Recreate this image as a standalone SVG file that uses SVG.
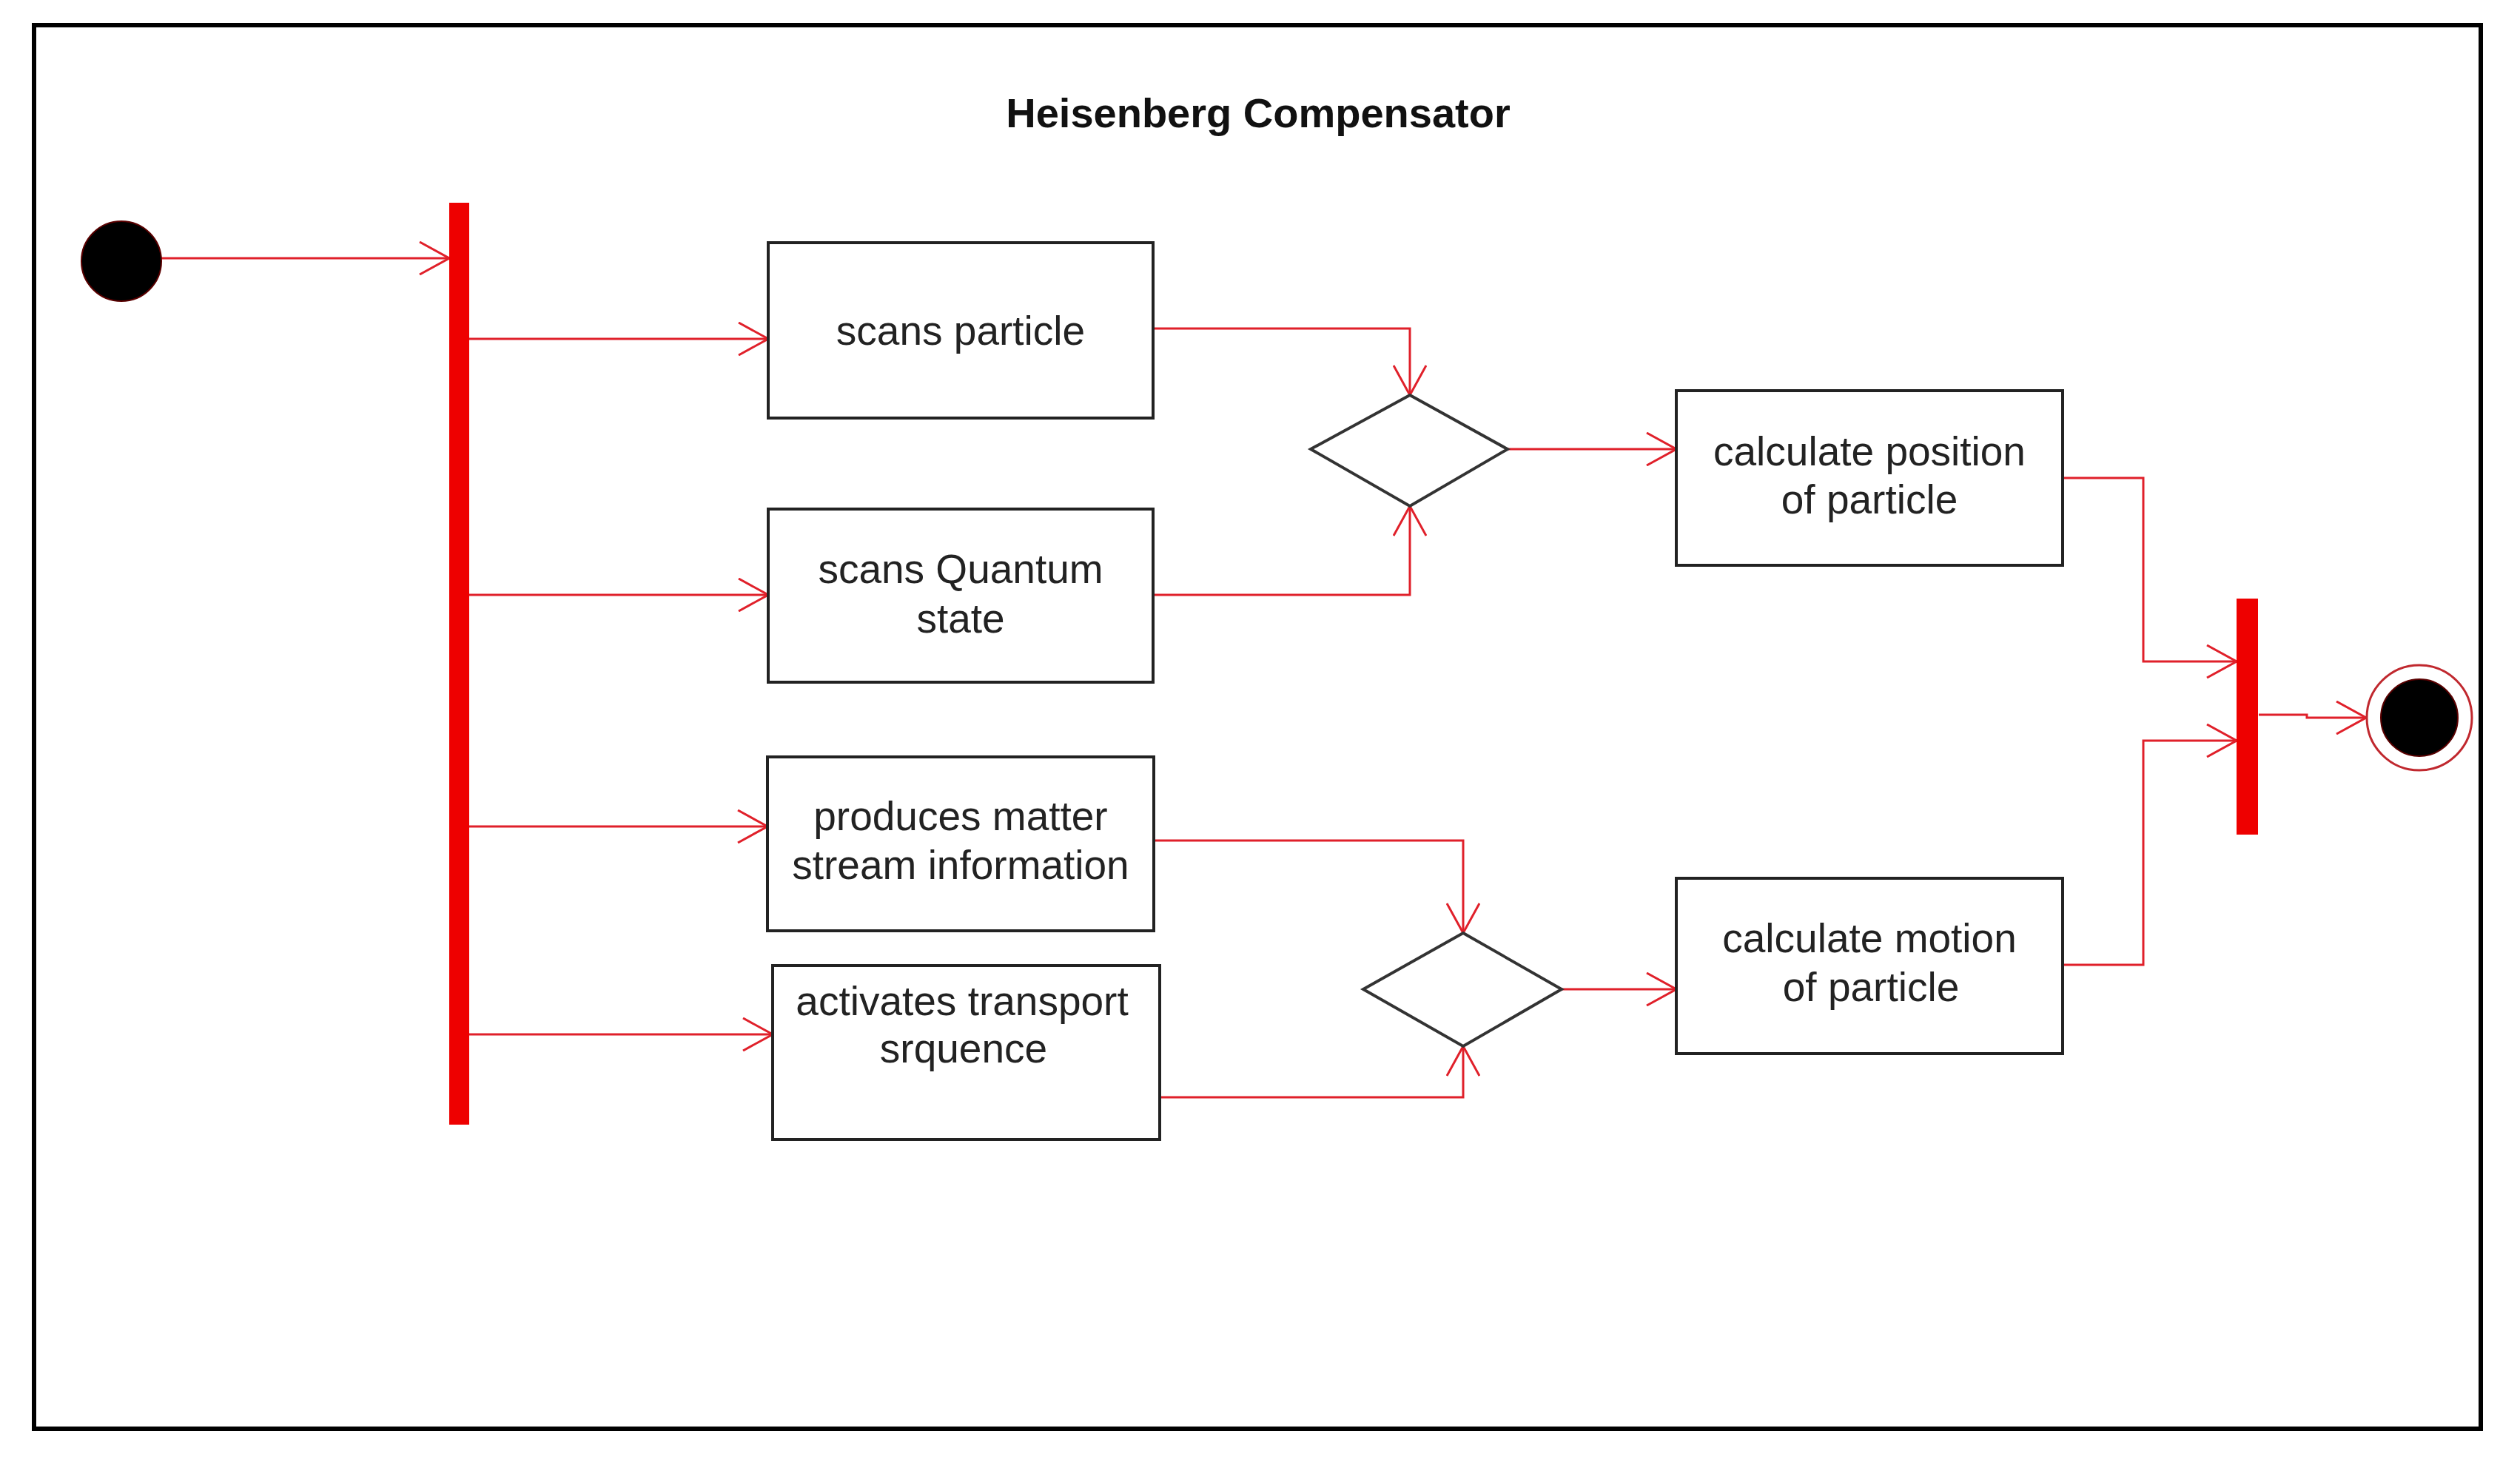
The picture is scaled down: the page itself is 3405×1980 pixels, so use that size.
<svg xmlns="http://www.w3.org/2000/svg" width="3405" height="1980" viewBox="0 0 3405 1980">
  <style>
    .frame { fill: none; stroke: #000; stroke-width: 6; }
    .box { fill: #fff; stroke: #222; stroke-width: 4; }
    .dia { fill: #fff; stroke: #333; stroke-width: 4; }
    .bar { fill: #ee0000; }
    .conn { fill: none; stroke: #e0202a; stroke-width: 3; marker-end: url(#arrow); }
    .lbl { font-family: "Liberation Sans", Arial, sans-serif; font-size: 55px; fill: #222; text-anchor: middle; }
    .title { font-family: "Liberation Sans", Arial, sans-serif; font-size: 56px; font-weight: bold; fill: #111; text-anchor: middle; }
  </style>
  <defs>
    <marker id="arrow" viewBox="0 0 42 46" refX="41" refY="23" markerWidth="42" markerHeight="46" markerUnits="userSpaceOnUse" orient="auto">
      <path d="M1,1 L41,23 L1,45" fill="none" stroke="#e0202a" stroke-width="3"/>
    </marker>
  </defs>
  <rect x="0" y="0" width="3405" height="1980" fill="#fff"/>
  <rect class="frame" x="46" y="34" width="3306" height="1897"/>
  <text class="title" x="1700" y="172">Heisenberg Compensator</text>

  <g id="connectors">
    <path class="conn" d="M218,349 H607"/>
    <path class="conn" d="M634,458 H1038"/>
    <path class="conn" d="M634,804 H1038"/>
    <path class="conn" d="M634,1117 H1037"/>
    <path class="conn" d="M634,1398 H1044"/>
    <path class="conn" d="M1558,444 H1905 V534"/>
    <path class="conn" d="M1558,804 H1905 V684"/>
    <path class="conn" d="M2037,607 H2265"/>
    <path class="conn" d="M1559,1136 H1977 V1261"/>
    <path class="conn" d="M1567,1483 H1977 V1414"/>
    <path class="conn" d="M2110,1337 H2265"/>
    <path class="conn" d="M2787,646 H2896 V894 H3022"/>
    <path class="conn" d="M2787,1304 H2896 V1001 H3022"/>
    <path class="conn" d="M3052,966 H3117 V970 H3197"/>
  </g>

  <g id="start">
    <circle cx="164" cy="353" r="54" fill="#000" stroke="#5a0000" stroke-width="2"/>
  </g>
  <g id="fork">
    <rect class="bar" x="607" y="274" width="27" height="1246"/>
  </g>
  <g id="scans-particle">
    <rect class="box" x="1038" y="328" width="520" height="237"/>
    <text class="lbl" x="1298" y="466">scans particle</text>
  </g>
  <g id="scans-quantum-state">
    <rect class="box" x="1038" y="688" width="520" height="234"/>
    <text class="lbl" x="1298" y="788">scans Quantum</text>
    <text class="lbl" x="1298" y="855">state</text>
  </g>
  <g id="produces-matter">
    <rect class="box" x="1037" y="1023" width="522" height="235"/>
    <text class="lbl" x="1298" y="1122">produces matter</text>
    <text class="lbl" x="1298" y="1188">stream information</text>
  </g>
  <g id="activates-transport">
    <rect class="box" x="1044" y="1305" width="523" height="235"/>
    <text class="lbl" x="1300" y="1372">activates transport</text>
    <text class="lbl" x="1302" y="1436">srquence</text>
  </g>
  <g id="merge-1">
    <polygon class="dia" points="1905,534 2037,607 1905,684 1771,607"/>
  </g>
  <g id="merge-2">
    <polygon class="dia" points="1977,1261 2110,1337 1977,1414 1842,1337"/>
  </g>
  <g id="calculate-position">
    <rect class="box" x="2265" y="528" width="522" height="236"/>
    <text class="lbl" x="2526" y="629">calculate position</text>
    <text class="lbl" x="2526" y="694">of particle</text>
  </g>
  <g id="calculate-motion">
    <rect class="box" x="2265" y="1187" width="522" height="237"/>
    <text class="lbl" x="2526" y="1287">calculate motion</text>
    <text class="lbl" x="2528" y="1353">of particle</text>
  </g>
  <g id="join">
    <rect class="bar" x="3022" y="809" width="29" height="319"/>
  </g>
  <g id="end">
    <circle cx="3269" cy="970" r="71" fill="#fff" stroke="#c0282e" stroke-width="3"/>
    <circle cx="3269" cy="970" r="52" fill="#000" stroke="#5a0000" stroke-width="2"/>
  </g>
</svg>
